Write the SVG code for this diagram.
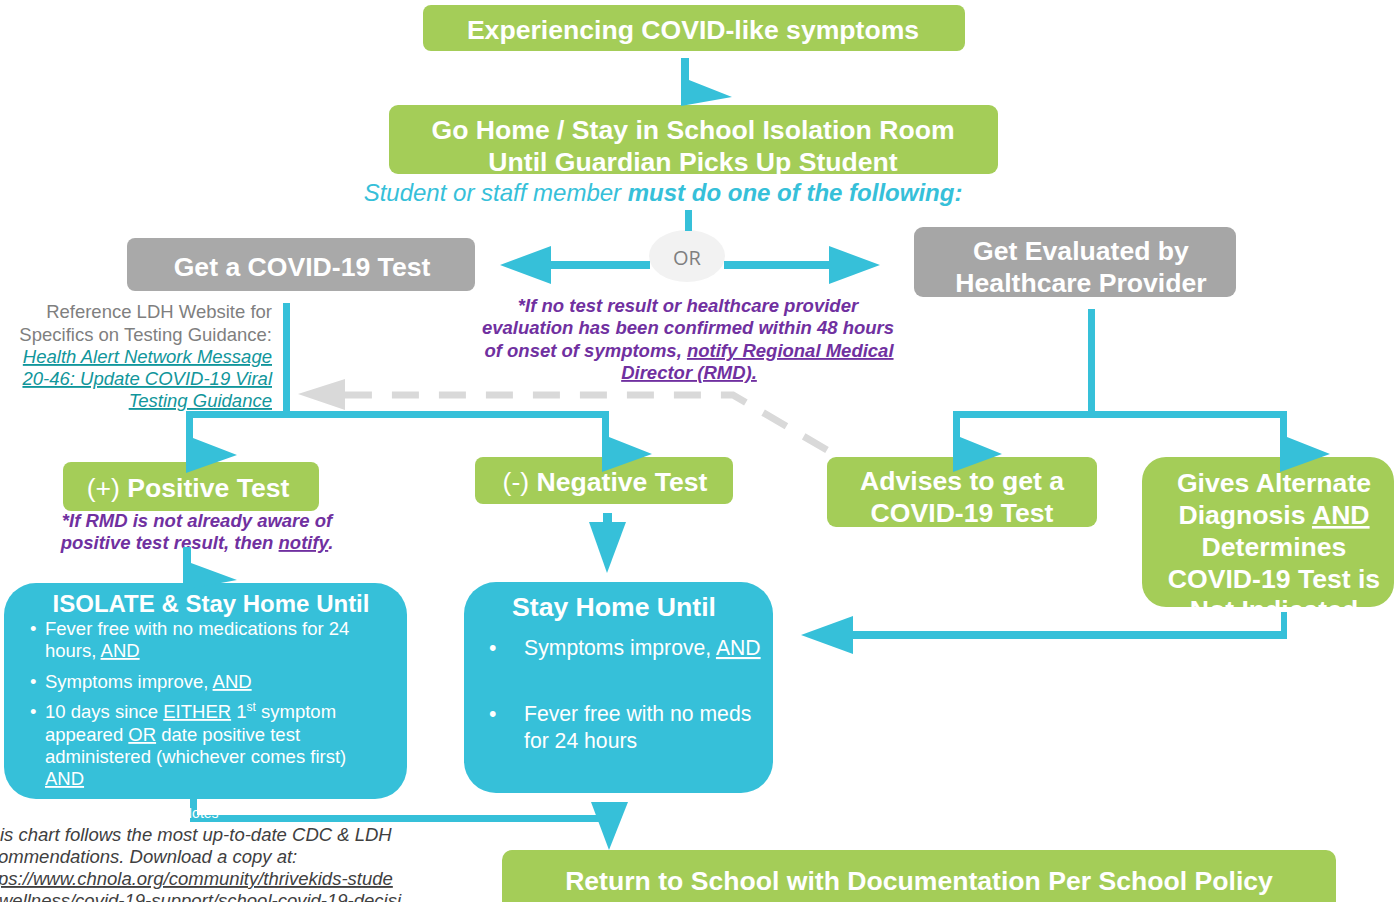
<svg xmlns="http://www.w3.org/2000/svg" width="1394" height="902" viewBox="0 0 1394 902">
<style>
.g{fill:#A4CD58}
.gr{fill:#A9A9A9}
.b{fill:#36C0D9}
text{font-family:"Liberation Sans",Arial,Helvetica,sans-serif}
.tw{fill:#fff;font-weight:bold;font-size:26.6px;text-anchor:middle}
.rg{font-weight:normal}
.u{text-decoration:underline}
.pu{fill:#7030A0;font-weight:bold;font-style:italic;font-size:18.5px;text-anchor:middle}
.gt{fill:#7F7F7F;font-size:18.5px;text-anchor:end}
.lk{fill:#11969B;font-size:18.5px;font-style:italic;text-anchor:end;text-decoration:underline}
.wb{fill:#fff;font-size:18.5px}
.ws{fill:#fff;font-size:21.2px}
.nt{fill:#404040;font-size:18.5px;font-style:italic}
</style>
<defs>
<clipPath id="clipAlt"><rect x="1142" y="457" width="252" height="150" rx="24"/></clipPath>
</defs>

<g id="node-symptoms">
<rect class="g" x="423" y="5" width="542" height="46" rx="8"/>
<text class="tw" x="693" y="39">Experiencing COVID-like symptoms</text>
</g>

<g id="node-gohome">
<rect class="g" x="389" y="105" width="609" height="69" rx="9"/>
<text class="tw" x="693" y="139">Go Home / Stay in School Isolation Room</text>
<text class="tw" x="693" y="171">Until Guardian Picks Up Student</text>
</g>

<g id="label-must">
<text x="663" y="201" text-anchor="middle" font-size="24" font-style="italic" fill="#36C0D9">Student or staff member <tspan font-weight="bold">must do one of the following:</tspan></text>
</g>

<g id="node-or">
<ellipse cx="687" cy="256" rx="38" ry="26" fill="#F2F2F2"/>
<text x="687" y="265" text-anchor="middle" font-size="20" fill="#7F7F7F" style="font-family:'Open Sans','Liberation Sans',sans-serif">OR</text>
</g>

<g id="node-gettest">
<rect class="gr" x="127" y="238" width="348" height="53" rx="8"/>
<text class="tw" x="302" y="276">Get a COVID-19 Test</text>
</g>

<g id="node-evaluated">
<rect fill="#A6A6A6" x="914" y="227" width="322" height="70" rx="9"/>
<text class="tw" x="1081" y="260">Get Evaluated by</text>
<text class="tw" x="1081" y="292">Healthcare Provider</text>
</g>

<g id="label-rmd48">
<text class="pu" x="688" y="312">*If no test result or healthcare provider</text>
<text class="pu" x="688" y="334">evaluation has been confirmed within 48 hours</text>
<text class="pu" x="689" y="357">of onset of symptoms, <tspan class="u">notify Regional Medical</tspan></text>
<text class="pu" x="689" y="379"><tspan class="u">Director (RMD).</tspan></text>
</g>

<g id="label-ldh">
<text class="gt" x="272" y="318">Reference LDH Website for</text>
<text class="gt" x="272" y="341">Specifics on Testing Guidance:</text>
<text class="lk" x="272" y="363">Health Alert Network Message</text>
<text class="lk" x="272" y="385">20-46: Update COVID-19 Viral</text>
<text class="lk" x="272" y="407">Testing Guidance</text>
</g>

<g id="node-positive">
<rect class="g" x="63" y="462" width="256" height="49" rx="8"/>
<text class="tw" x="188" y="497"><tspan class="rg">(+) </tspan>Positive Test</text>
</g>

<g id="label-rmdpos">
<text class="pu" x="197" y="527">*If RMD is not already aware of</text>
<text class="pu" x="197" y="549">positive test result, then <tspan class="u">notify</tspan>.</text>
</g>

<g id="node-negative">
<rect class="g" x="475" y="457" width="258" height="47" rx="8"/>
<text class="tw" x="605" y="491"><tspan class="rg">(-) </tspan>Negative Test</text>
</g>

<g id="node-advises">
<rect class="g" x="827" y="457" width="270" height="70" rx="9"/>
<text class="tw" x="962" y="490">Advises to get a</text>
<text class="tw" x="962" y="522">COVID-19 Test</text>
</g>

<g id="node-alternate">
<rect class="g" x="1142" y="457" width="252" height="150" rx="24"/>
<g clip-path="url(#clipAlt)">
<text class="tw" x="1274" y="492">Gives Alternate</text>
<text class="tw" x="1274" y="524">Diagnosis <tspan class="u">AND</tspan></text>
<text class="tw" x="1274" y="556">Determines</text>
<text class="tw" x="1274" y="588">COVID-19 Test is</text>
<text class="tw" x="1274" y="619">Not Indicated</text>
</g>
</g>

<g id="node-isolate">
<rect class="b" x="4" y="583" width="403" height="216" rx="32"/>
<text class="tw" x="211" y="612" style="font-size:24px">ISOLATE &amp; Stay Home Until</text>
<text class="wb" x="30" y="635">•</text>
<text class="wb" x="45" y="635">Fever free with no medications for 24</text>
<text class="wb" x="45" y="657">hours, <tspan class="u">AND</tspan></text>
<text class="wb" x="30" y="688">•</text>
<text class="wb" x="45" y="688">Symptoms improve, <tspan class="u">AND</tspan></text>
<text class="wb" x="30" y="718">•</text>
<text class="wb" x="45" y="718">10 days since <tspan class="u">EITHER</tspan> 1<tspan dy="-7" font-size="12">st</tspan><tspan dy="7"> symptom</tspan></text>
<text class="wb" x="45" y="741">appeared <tspan class="u">OR</tspan> date positive test</text>
<text class="wb" x="45" y="763">administered (whichever comes first)</text>
<text class="wb" x="45" y="785"><tspan class="u">AND</tspan></text>
</g>

<g id="node-stayhome">
<rect class="b" x="464" y="582" width="309" height="211" rx="32"/>
<text class="tw" x="614" y="616">Stay Home Until</text>
<text class="ws" x="489" y="655">•</text>
<text class="ws" x="524" y="655">Symptoms improve, <tspan class="u">AND</tspan></text>
<text class="ws" x="489" y="721">•</text>
<text class="ws" x="524" y="721">Fever free with no meds</text>
<text class="ws" x="524" y="748">for 24 hours</text>
</g>

<g id="node-return">
<rect class="g" x="502" y="850" width="834" height="70" rx="10"/>
<text class="tw" x="919" y="890">Return to School with Documentation Per School Policy</text>
</g>

<g id="label-notes">
<text class="nt" x="0" y="841">is chart follows the most up-to-date CDC &amp; LDH</text>
<text class="nt" x="-2" y="863">ommendations. Download a copy at:</text>
<text class="nt u" x="-2" y="885">ps://www.chnola.org/community/thrivekids-stude</text>
<text class="nt u" x="-1" y="907">wellness/covid-19-support/school-covid-19-decisi</text>
</g>

<g id="connectors">
<polygon class="b" points="681,58 689,58 689,80 732,97 681,106"/>
<rect class="b" x="685" y="210" width="7" height="21"/>
<rect class="b" x="550" y="261" width="100" height="8"/>
<polygon class="b" points="500,265 551,246 551,284"/>
<rect class="b" x="724" y="261" width="106" height="8"/>
<polygon class="b" points="880,265 829,246 829,284"/>
<rect class="b" x="283" y="303" width="7" height="115"/>
<rect class="b" x="186" y="411" width="423" height="7"/>
<polygon class="b" points="186,411 193,411 193,438 237,455 186,473"/>
<polygon class="b" points="602,411 609,411 609,437 652,454 602,472"/>
<polygon class="b" points="183,547 191,547 191,563 237,580 183,590"/>
<rect class="b" x="603" y="513" width="9" height="10"/>
<polygon class="b" points="589,522 626,522 607,573"/>
<rect class="b" x="1088" y="309" width="7" height="109"/>
<rect class="b" x="953" y="411" width="334" height="7"/>
<polygon class="b" points="953,411 960,411 960,437 1002,454 953,472"/>
<polygon class="b" points="1280,411 1287,411 1287,437 1330,454 1280,472"/>
<rect class="b" x="1281" y="612" width="6" height="27"/>
<rect class="b" x="852" y="631" width="435" height="8"/>
<polygon class="b" points="801,635 853,616 853,654"/>
<rect class="b" x="190" y="799" width="7" height="23"/>
<rect class="b" x="190" y="815" width="410" height="7"/>
<polygon class="b" points="591,802 628,802 609,850"/>
<text x="182" y="818" font-size="14" fill="#fff">Notes</text>
<path d="M827,450 L733,395 L345,395" fill="none" stroke="#D9D9D9" stroke-width="7" stroke-dasharray="27 20"/>
<polygon points="298,394 345,379 345,410" fill="#D9D9D9"/>
</g>
</svg>
